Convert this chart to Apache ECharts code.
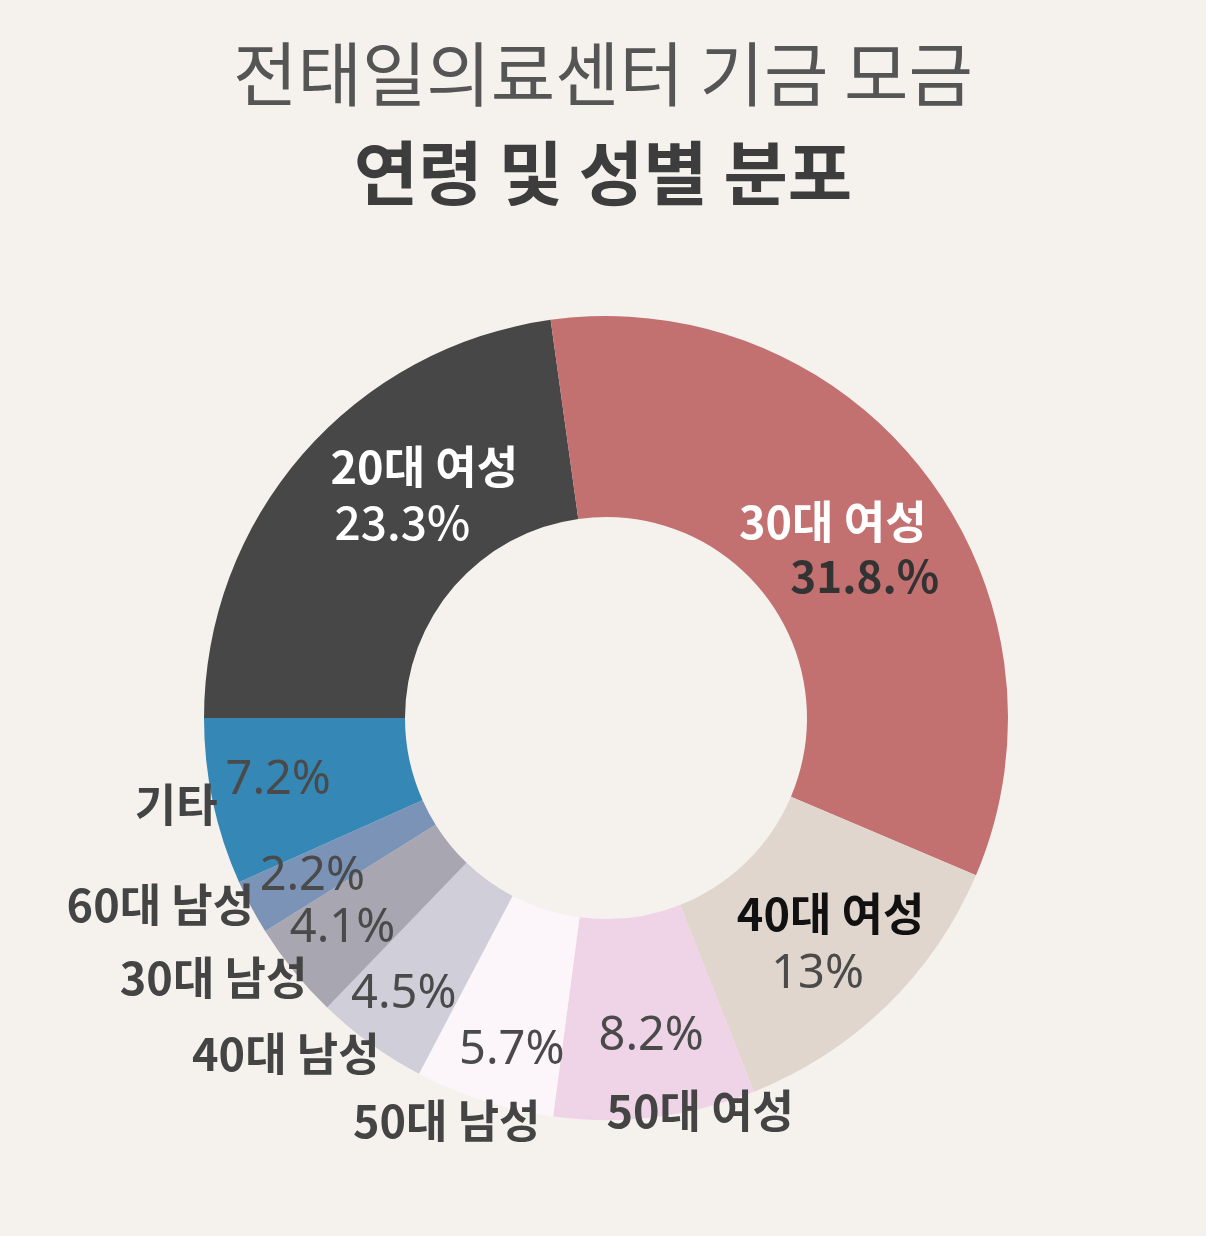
<!DOCTYPE html>
<html>
<head>
<meta charset="utf-8">
<script src="https://cdn.jsdelivr.net/npm/echarts@6/dist/echarts.min.js"></script>
<style>
  html, body { margin: 0; padding: 0; background: #f5f2ee; }
  #chart { width: 1206px; height: 1236px; }
</style>
</head>
<body>
<div id="chart"></div>
<script>
// data, clockwise from 9 o'clock
const groups = ['20대 여성', '30대 여성', '40대 여성', '50대 여성', '50대 남성', '40대 남성', '30대 남성', '60대 남성', '기타']
// slice sizes as drawn (measured from the arcs)
const shares = [22.8, 33.6, 12.6, 8.1, 5.6, 4.5, 3.9, 2.2, 6.7]
// printed labels
const shareLabels = ['23.3%', '31.8.%', '13%', '8.2%', '5.7%', '4.5%', '4.1%', '2.2%', '7.2%']

const sliceColors = ['#474747', '#c27070', '#e0d6cd', '#efd4e7', '#fcf5fa', '#d0ced9', '#a8a7b1', '#7a93b6', '#3588b5']

// label nudges from the slice middle
const pctOffsets = [[26, 4], [17, 43], [-1, 39], [8, 16], [-2, 42], [-24, 30], [-27, 19], [-25, 15], [-30, -1]]
const nameOffsets = [[48, -51], [-15, -11], [12, -22], [57, 91], [-67, 113], [-142, 89], [-156, 68], [-177, 44], [-132, 23]]

const pctStyle = (i) => {
  if (i === 0) return { color: '#ffffff', fontWeight: 500, fontFamily: 'Noto Sans CJK KR', fontSize: 46 }
  if (i === 1) return { color: '#333333', fontWeight: 'bold', fontFamily: 'Noto Sans CJK KR', fontSize: 44 }
  return { color: '#4a4a4a', fontWeight: 'normal', fontFamily: 'Noto Sans', fontSize: 47 }
}
const nameColor = (i) => (i < 2 ? '#ffffff' : i === 2 ? '#111111' : '#444444')

const chart = echarts.init(document.getElementById('chart'))

const common = {
  type: 'pie',
  center: [606, 718],
  radius: [201, 402],
  startAngle: 180,
  clockwise: true,
  avoidLabelOverlap: false,
  labelLine: { show: false },
  emphasis: { disabled: true },
}

chart.setOption({
  backgroundColor: '#f5f2ee',
  title: [
    {
      text: '전태일의료센터 기금 모금',
      left: 'center',
      top: 34,
      textStyle: { fontFamily: 'Noto Sans CJK KR', fontSize: 70, fontWeight: 'normal', color: '#555555' },
    },
    {
      text: '연령 및 성별 분포',
      left: 'center',
      top: 133,
      textStyle: { fontFamily: 'Noto Sans CJK KR', fontSize: 70, fontWeight: 'bold', color: '#3d3d3d' },
    },
  ],
  series: [
    {
      ...common,
      name: 'share',
      itemStyle: { borderWidth: 0 },
      label: { show: true, position: 'inside' },
      labelLayout: (p) => ({ dx: pctOffsets[p.dataIndex][0], dy: pctOffsets[p.dataIndex][1] }),
      data: shares.map((v, i) => ({
        name: groups[i],
        value: v,
        itemStyle: { color: sliceColors[i] },
        label: { formatter: shareLabels[i], ...pctStyle(i) },
      })),
    },
    {
      ...common,
      name: 'names',
      silent: true,
      itemStyle: { color: 'rgba(0,0,0,0)', borderWidth: 0 },
      label: {
        show: true,
        position: 'inside',
        fontSize: 45,
        fontWeight: 'bold',
        fontFamily: 'Noto Sans CJK KR',
        formatter: '{b}',
      },
      labelLayout: (p) => ({ dx: nameOffsets[p.dataIndex][0], dy: nameOffsets[p.dataIndex][1] }),
      data: shares.map((v, i) => ({
        name: groups[i],
        value: v,
        label: { color: nameColor(i) },
      })),
    },
  ],
})
</script>
</body>
</html>
